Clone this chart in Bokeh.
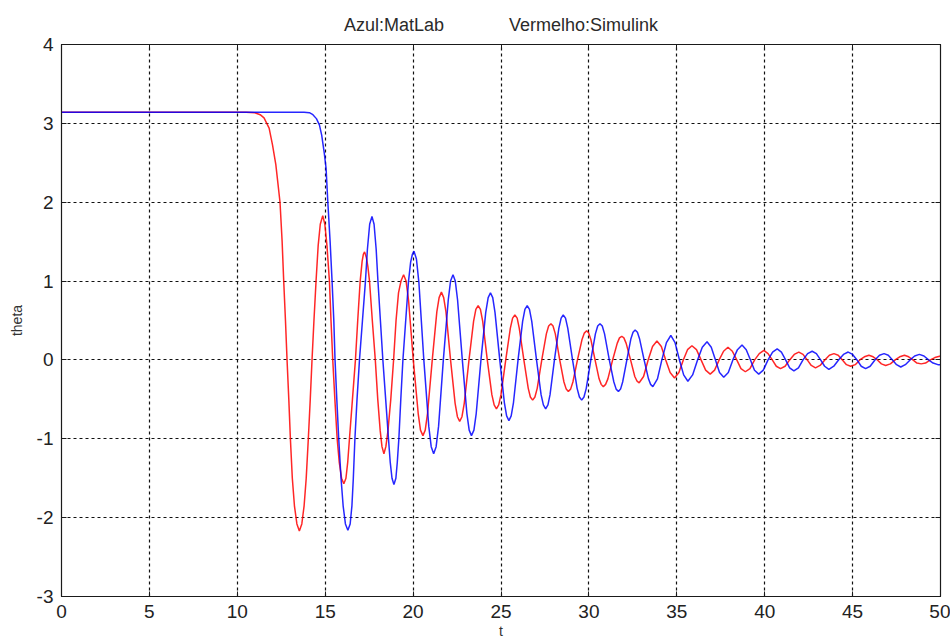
from bokeh.plotting import figure
from bokeh.models import FixedTicker, LinearAxis, Range1d, PrintfTickFormatter
from bokeh.embed import file_html
from bokeh.resources import INLINE

# Title / labels
NB = "\u00a0"
title_text = "Azul:MatLab" + NB * 13 + "Vermelho:Simulink"
x_label = "t"
y_label = "theta"
x_ticks = [0, 5, 10, 15, 20, 25, 30, 35, 40, 45, 50]
y_ticks = [-3, -2, -1, 0, 1, 2, 3, 4]

# Blue: MatLab  (t, theta)
matlab_pts = [
    (0.0, 3.14), (13.8, 3.14), (14.1, 3.135), (14.3, 3.11), (14.5, 3.06), (14.67, 2.98), (14.8, 2.85),
    (14.95, 2.62), (15.05, 2.43), (15.15, 2.0), (15.28, 1.5), (15.39, 1.0), (15.49, 0.5), (15.56, 0.0),
    (15.66, -0.5), (15.77, -1.0), (15.90, -1.5), (16.02, -1.85), (16.15, -2.08), (16.29, -2.16),
    (16.42, -2.08), (16.52, -1.85), (16.60, -1.5), (16.69, -1.0), (16.81, -0.5), (16.95, 0.0),
    (17.12, 0.5), (17.29, 1.0), (17.40, 1.4), (17.53, 1.72), (17.66, 1.82), (17.78, 1.72), (17.90, 1.4),
    (18.00, 1.0), (18.14, 0.5), (18.28, 0.0), (18.44, -0.5), (18.60, -1.0), (18.70, -1.3), (18.80, -1.5),
    (18.91, -1.58), (19.02, -1.5), (19.10, -1.3), (19.19, -1.0), (19.30, -0.5), (19.42, 0.0), (19.58, 0.5),
    (19.74, 1.0), (19.86, 1.24), (19.96, 1.34), (20.05, 1.38),
    (20.19, 1.28), (20.33, 0.98), (20.61, 0.0), (20.89, -0.84), (21.03, -1.10), (21.17, -1.19),
    (21.31, -1.10), (21.45, -0.84), (21.72, 0.0), (22.00, 0.76), (22.13, 1.00), (22.27, 1.08),
    (22.40, 1.00), (22.53, 0.76), (22.80, 0.0), (23.06, -0.68), (23.19, -0.89), (23.32, -0.96),
    (23.46, -0.89), (23.59, -0.68), (23.86, 0.0), (24.13, 0.60), (24.27, 0.79), (24.40, 0.85),
    (24.53, 0.79), (24.66, 0.60), (24.93, 0.0), (25.19, -0.54), (25.32, -0.71), (25.45, -0.77),
    (25.58, -0.71), (25.71, -0.54), (25.97, 0.0), (26.23, 0.49), (26.36, 0.64), (26.49, 0.69),
    (26.62, 0.64), (26.75, 0.49), (27.02, 0.0), (27.28, -0.44), (27.41, -0.57), (27.54, -0.62),
    (27.67, -0.57), (27.79, -0.44), (28.04, 0.0), (28.29, 0.40), (28.42, 0.53), (28.54, 0.57),
    (28.67, 0.53), (28.80, 0.40), (29.07, 0.0), (29.33, -0.36), (29.46, -0.47), (29.59, -0.51),
    (29.72, -0.47), (29.85, -0.36), (30.11, 0.0), (30.37, 0.33), (30.50, 0.43), (30.63, 0.46),
    (30.76, 0.43), (30.89, 0.33), (31.16, 0.0), (31.42, -0.28), (31.55, -0.37), (31.68, -0.40),
    (31.80, -0.37), (31.92, -0.28), (32.16, 0.0), (32.39, 0.27), (32.51, 0.35), (32.63, 0.38),
    (32.76, 0.35), (32.88, 0.27), (33.14, 0.0), (33.39, -0.24), (33.51, -0.31), (33.64, -0.34),
    (33.90, -0.24), (34.15, 0.0), (34.41, 0.22), (34.66, 0.31), (34.90, 0.22), (35.15, 0.0),
    (35.39, -0.19), (35.63, -0.27), (35.90, -0.19), (36.18, 0.0), (36.45, 0.16), (36.72, 0.23),
    (36.96, 0.16), (37.20, 0.0), (37.43, -0.16), (37.67, -0.22), (37.93, -0.16), (38.19, 0.0),
    (38.45, 0.13), (38.71, 0.19), (38.95, 0.13), (39.19, 0.0), (39.42, -0.13), (39.66, -0.18),
    (39.92, -0.13), (40.19, 0.0), (40.45, 0.10), (40.71, 0.14), (40.95, 0.10), (41.19, 0.0),
    (41.42, -0.10), (41.66, -0.14), (41.92, -0.10), (42.18, 0.0), (42.44, 0.08), (42.70, 0.11),
    (42.94, 0.08), (43.18, 0.0), (43.41, -0.08), (43.65, -0.12), (43.93, -0.08), (44.20, 0.0),
    (44.48, 0.07), (44.75, 0.10), (45.00, 0.07), (45.25, 0.0), (45.49, -0.08), (45.74, -0.11),
    (46.00, -0.08), (46.27, 0.0), (46.53, 0.06), (46.79, 0.08), (47.03, 0.06), (47.27, 0.0),
    (47.50, -0.06), (47.74, -0.09), (48.00, -0.06), (48.27, 0.0), (48.53, 0.05), (48.80, 0.07),
    (49.06, 0.05), (49.32, 0.0), (49.58, -0.04), (49.85, -0.06), (50.0, -0.06),
]

# Red: Simulink  (t, theta)
simulink_pts = [
    (0.0, 3.14), (10.5, 3.14), (11.0, 3.135), (11.3, 3.11), (11.52, 3.07), (11.81, 2.94), (12.0, 2.73),
    (12.19, 2.48), (12.32, 2.22), (12.43, 2.0), (12.55, 1.5), (12.64, 1.0), (12.74, 0.5), (12.83, 0.0),
    (12.93, -0.5), (13.02, -1.0), (13.13, -1.5), (13.25, -1.85), (13.39, -2.08), (13.53, -2.17),
    (13.67, -2.08), (13.80, -1.85), (13.92, -1.5), (14.04, -1.0), (14.15, -0.5), (14.25, 0.0),
    (14.36, 0.5), (14.48, 1.0), (14.60, 1.45), (14.72, 1.72), (14.86, 1.83), (14.98, 1.72),
    (15.10, 1.45), (15.24, 1.0), (15.33, 0.5), (15.43, 0.0), (15.55, -0.5), (15.68, -1.0),
    (15.80, -1.3), (15.93, -1.5), (16.06, -1.57), (16.18, -1.5), (16.28, -1.3), (16.38, -1.0),
    (16.55, -0.5), (16.72, 0.0), (16.85, 0.5), (16.99, 1.0), (17.10, 1.25), (17.17, 1.34),
    (17.24, 1.37), (17.34, 1.3), (17.43, 1.18), (17.52, 1.0), (17.68, 0.5), (17.85, 0.0),
    (17.99, -0.5), (18.13, -0.9), (18.23, -1.1), (18.34, -1.19), (18.45, -1.1), (18.57, -0.9),
    (18.73, -0.5), (18.89, 0.0), (19.03, 0.5), (19.17, 0.85), (19.31, 1.0), (19.46, 1.08),
    (19.60, 1.00), (19.74, 0.76), (20.01, 0.0), (20.29, -0.68), (20.42, -0.89), (20.56, -0.96),
    (20.69, -0.89), (20.82, -0.68), (21.09, 0.0), (21.35, 0.61), (21.48, 0.79), (21.61, 0.86),
    (21.74, 0.79), (21.87, 0.61), (22.13, 0.0), (22.39, -0.55), (22.52, -0.72), (22.65, -0.78),
    (22.78, -0.72), (22.91, -0.55), (23.18, 0.0), (23.44, 0.49), (23.57, 0.64), (23.70, 0.69),
    (23.83, 0.64), (23.96, 0.49), (24.22, 0.0), (24.48, -0.44), (24.61, -0.57), (24.74, -0.62),
    (24.87, -0.57), (25.00, -0.44), (25.27, 0.0), (25.53, 0.40), (25.66, 0.53), (25.79, 0.57),
    (25.92, 0.53), (26.04, 0.40), (26.30, 0.0), (26.55, -0.36), (26.67, -0.47), (26.80, -0.51),
    (26.93, -0.47), (27.06, -0.36), (27.32, 0.0), (27.58, 0.33), (27.71, 0.43), (27.84, 0.46),
    (27.96, 0.43), (28.09, 0.33), (28.34, 0.0), (28.58, -0.28), (28.71, -0.37), (28.83, -0.40),
    (28.96, -0.37), (29.09, -0.28), (29.35, 0.0), (29.61, 0.26), (29.74, 0.34), (29.87, 0.37),
    (29.99, 0.34), (30.11, 0.26), (30.35, 0.0), (30.58, -0.24), (30.70, -0.31), (30.82, -0.34),
    (30.95, -0.31), (31.08, -0.24), (31.35, 0.0), (31.61, 0.21), (31.74, 0.28), (31.87, 0.30),
    (31.99, 0.28), (32.12, 0.21), (32.37, 0.0), (32.61, -0.21), (32.74, -0.27), (32.86, -0.29),
    (33.11, -0.21), (33.37, 0.0), (33.62, 0.17), (33.87, 0.24), (34.12, 0.17), (34.37, 0.0),
    (34.62, -0.16), (34.87, -0.23), (35.12, -0.16), (35.37, 0.0), (35.61, 0.13), (35.86, 0.18),
    (36.12, 0.13), (36.38, 0.0), (36.64, -0.13), (36.90, -0.18), (37.15, -0.13), (37.41, 0.0),
    (37.66, 0.11), (37.91, 0.16), (38.16, 0.11), (38.41, 0.0), (38.65, -0.11), (38.90, -0.15),
    (39.16, -0.11), (39.43, 0.0), (39.69, 0.08), (39.95, 0.12), (40.19, 0.08), (40.43, 0.0),
    (40.66, -0.08), (40.90, -0.11), (41.16, -0.08), (41.42, 0.0), (41.68, 0.07), (41.94, 0.10),
    (42.18, 0.07), (42.42, 0.0), (42.65, -0.07), (42.89, -0.10), (43.15, -0.07), (43.42, 0.0),
    (43.68, 0.06), (43.94, 0.08), (44.18, 0.06), (44.42, 0.0), (44.65, -0.06), (44.89, -0.08),
    (45.15, -0.06), (45.41, 0.0), (45.67, 0.04), (45.93, 0.06), (46.17, 0.04), (46.41, 0.0),
    (46.64, -0.05), (46.88, -0.07), (47.15, -0.05), (47.42, 0.0), (47.68, 0.04), (47.95, 0.06),
    (48.19, 0.04), (48.43, 0.0), (48.66, -0.04), (48.90, -0.05), (49.15, -0.04), (49.42, 0.0),
    (49.68, 0.03), (50.0, 0.05),
]

t_matlab = [a for a, _ in matlab_pts]
theta_matlab = [b for _, b in matlab_pts]
t_simulink = [a for a, _ in simulink_pts]
theta_simulink = [b for _, b in simulink_pts]

FONT = "Liberation Sans"
INK = "#1a1a1a"

p = figure(width=950, height=641, output_backend="svg", toolbar_location=None,
           x_range=Range1d(0, 50), y_range=Range1d(-3, 4),
           min_border_left=61, min_border_right=10, min_border_top=44, min_border_bottom=44)

p.title.text = title_text
p.title.align = "center"
p.title.text_font = FONT
p.title.text_font_size = "18px"
p.title.text_font_style = "normal"
p.title.text_color = "#2a2a2a"
p.title.standoff = 19

p.outline_line_color = INK
p.outline_line_width = 1.2
p.background_fill_color = "white"
p.border_fill_color = "white"

for ax in (p.xaxis[0], p.yaxis[0]):
    ax.major_tick_in = 5
    ax.major_tick_out = 0
    ax.minor_tick_in = 0
    ax.minor_tick_out = 0
    ax.axis_line_color = INK
    ax.major_tick_line_color = INK
    ax.major_label_text_font = FONT
    ax.major_label_text_font_size = "19px"
    ax.major_label_text_color = "#222222"
    ax.axis_label_text_font = FONT
    ax.axis_label_text_font_size = "14px"
    ax.axis_label_text_font_style = "normal"
    ax.axis_label_text_color = "#333333"
    ax.formatter = PrintfTickFormatter(format="%d")

p.xaxis.ticker = FixedTicker(ticks=x_ticks)
p.yaxis.ticker = FixedTicker(ticks=y_ticks)
p.xaxis.axis_label = x_label
p.yaxis.axis_label = y_label
p.xaxis.major_label_standoff = 8
p.xaxis.axis_label_standoff = 2
p.yaxis.major_label_standoff = 8
p.yaxis.axis_label_standoff = 9

# MATLAB-style box: inward ticks on top and right, no labels
for loc, ticks in (("above", x_ticks), ("right", y_ticks)):
    ax = LinearAxis(ticker=FixedTicker(ticks=ticks))
    ax.major_tick_in = 5
    ax.major_tick_out = 0
    ax.minor_tick_in = 0
    ax.minor_tick_out = 0
    ax.major_label_text_font_size = "1px"
    ax.major_label_text_color = None
    ax.major_label_standoff = 0
    ax.axis_line_color = INK
    ax.major_tick_line_color = INK
    p.add_layout(ax, loc)

p.xgrid.ticker = FixedTicker(ticks=x_ticks)
p.ygrid.ticker = FixedTicker(ticks=y_ticks)
p.grid.grid_line_color = "#111111"
p.grid.grid_line_dash = "3 3"
p.grid.grid_line_width = 1.2

p.line(t_simulink, theta_simulink, line_color="#ff0000", line_width=1.5, line_alpha=0.85)
p.line(t_matlab, theta_matlab, line_color="#0000ff", line_width=1.5, line_alpha=0.85)

open("out.html", "w").write(file_html(p, INLINE))
